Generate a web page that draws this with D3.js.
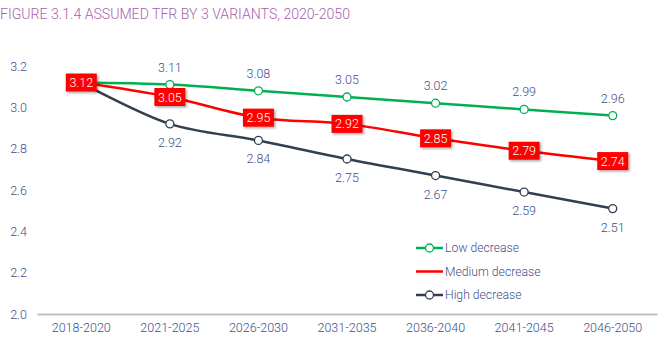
<!DOCTYPE html>
<html>
<head>
<meta charset="utf-8">
<script src="https://cdn.jsdelivr.net/npm/d3@7"></script>
<style>
  body { margin: 0; background: #fff; }
  svg { font-family: Roboto, "Noto Sans", sans-serif; font-weight: 300; }
</style>
</head>
<body>
<div id="chart"></div>
<script>
// data
const periods = ['2018-2020', '2021-2025', '2026-2030', '2031-2035', '2036-2040', '2041-2045', '2046-2050'];
const lowDecrease = [3.12, 3.11, 3.08, 3.05, 3.02, 2.99, 2.96];
const mediumDecrease = [3.12, 3.05, 2.95, 2.92, 2.85, 2.79, 2.74];
const highDecrease = [3.12, 2.92, 2.84, 2.75, 2.67, 2.59, 2.51];
const yTicks = [2.0, 2.2, 2.4, 2.6, 2.8, 3.0, 3.2];
const title = 'FIGURE 3.1.4 ASSUMED TFR BY 3 VARIANTS, 2020-2050';

const width = 671, height = 341;
const margin = { top: 66, right: 14, bottom: 27, left: 37 };
const textColor = '#3d4f8c';

const svg = d3.select('#chart').append('svg')
  .attr('width', width)
  .attr('height', height);

const defs = svg.append('defs');
const shadow = defs.append('filter').attr('id', 'shadow')
  .attr('x', '-20%').attr('y', '-20%').attr('width', '150%').attr('height', '160%');
shadow.append('feDropShadow')
  .attr('dx', 1.5).attr('dy', 1.5).attr('stdDeviation', 1.2)
  .attr('flood-color', '#000').attr('flood-opacity', 0.35);

svg.append('text')
  .attr('x', 0)
  .attr('y', 19)
  .attr('fill', '#a95fb0')
  .style('font-size', '14.1px')
  .text(title);

const x = d3.scaleBand()
  .domain(periods)
  .range([margin.left, width - margin.right]);

const y = d3.scaleLinear()
  .domain([2.0, 3.2])
  .range([height - margin.bottom, margin.top]);

const cx = d => x(d) + x.bandwidth() / 2;

// y axis labels (no line)
const yAxis = svg.append('g')
  .attr('transform', `translate(${margin.left - 4}, 0)`)
  .call(d3.axisLeft(y).tickValues(yTicks).tickFormat(d3.format('.1f')).tickSize(0));
yAxis.select('.domain').remove();
yAxis.selectAll('text')
  .attr('fill', textColor)
  .attr('x', -6)
  .style('font-size', '12.5px')
  .style('font-family', 'Roboto, sans-serif')
  .style('font-weight', 300);

// x axis
const xAxis = svg.append('g')
  .attr('transform', `translate(0, ${y(2.0)})`)
  .call(d3.axisBottom(x).tickSize(0));
xAxis.select('.domain')
  .attr('stroke', '#bfbfbf')
  .attr('stroke-width', 2);
xAxis.selectAll('text')
  .attr('fill', textColor)
  .attr('dy', '1.2em')
  .style('font-size', '12.5px')
  .style('font-family', 'Roboto, sans-serif')
  .style('font-weight', 300);

const series = [
  { name: 'Low decrease', values: lowDecrease, color: '#00b050', markers: true, label: 'above' },
  { name: 'Medium decrease', values: mediumDecrease, color: '#ff0000', markers: false, label: 'box' },
  { name: 'High decrease', values: highDecrease, color: '#333f50', markers: true, label: 'below' }
];

const line = d3.line()
  .x((d, i) => cx(periods[i]))
  .y(d => y(d))
  .curve(d3.curveCatmullRom.alpha(0.5));

const lineOrder = [series[2], series[1], series[0]];

lineOrder.forEach(s => {
  svg.append('path')
    .datum(s.values)
    .attr('fill', 'none')
    .attr('stroke', s.color)
    .attr('stroke-width', 2.5)
    .attr('d', line);
});

lineOrder.forEach(s => {
  if (!s.markers) return;
  svg.selectAll(null)
    .data(s.values)
    .enter()
    .append('circle')
    .attr('cx', (d, i) => cx(periods[i]))
    .attr('cy', d => y(d))
    .attr('r', 4)
    .attr('fill', '#fff')
    .attr('stroke', s.color)
    .attr('stroke-width', 1.3);
});

// data labels
const fmt = d3.format('.2f');
series.forEach(s => {
  if (s.label === 'box') return;
  const vals = s.values.map((v, i) => ({ v, i })).filter(d => d.i > 0);
  svg.selectAll(null)
    .data(vals)
    .enter()
    .append('text')
    .attr('x', d => cx(periods[d.i]))
    .attr('y', d => y(d.v) + (s.label === 'above' ? -13 : 23))
    .attr('text-anchor', 'middle')
    .attr('fill', textColor)
    .style('font-size', '12.5px')
    .text(d => fmt(d.v));
});

const boxes = svg.selectAll('g.box')
  .data(mediumDecrease)
  .enter()
  .append('g')
  .attr('class', 'box')
  .attr('transform', (d, i) => `translate(${cx(periods[i])}, ${y(d)})`);
boxes.append('rect')
  .attr('x', -15.5)
  .attr('y', -9)
  .attr('width', 31)
  .attr('height', 18)
  .attr('fill', '#ff0000')
  .attr('filter', 'url(#shadow)');
boxes.append('text')
  .attr('text-anchor', 'middle')
  .attr('dy', '0.36em')
  .attr('fill', '#fff')
  .style('font-size', '12.5px')
  .text(d => fmt(d));

// legend
const legend = svg.append('g').attr('transform', 'translate(416, 248)');
series.forEach((s, i) => {
  const g = legend.append('g').attr('transform', `translate(0, ${i * 23.5})`);
  g.append('line')
    .attr('x1', 0).attr('x2', 27)
    .attr('stroke', s.color)
    .attr('stroke-width', 2.5);
  if (s.markers) {
    g.append('circle')
      .attr('cx', 13.5).attr('r', 4)
      .attr('fill', '#fff')
      .attr('stroke', s.color)
      .attr('stroke-width', 1.3);
  }
  g.append('text')
    .attr('x', 29)
    .attr('dy', '0.35em')
    .attr('fill', textColor)
    .style('font-size', '12.2px')
    .text(s.name);
});
</script>
</body>
</html>
